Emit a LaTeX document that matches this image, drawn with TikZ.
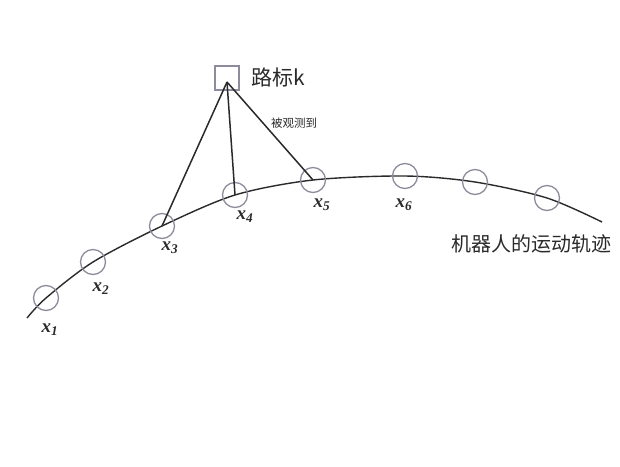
\documentclass[tikz,border=0pt]{standalone}
\usepackage{fontspec}
\setmainfont{Liberation Serif}
\newfontfamily\cjk{Noto Sans CJK SC}
\definecolor{circ}{HTML}{8C8C9C}
\definecolor{ink}{HTML}{2A2A2A}
\begin{document}
\begin{tikzpicture}[x=1pt,y=-1pt,
  pose/.style={circle,draw=circ,line width=1.3pt,minimum size=25pt,inner sep=0pt},
  xlab/.style={font=\fontsize{19}{20}\selectfont\bfseries\itshape,text=ink,inner sep=0pt},
  cn/.style={text=ink,inner sep=0pt},
  traj/.style={draw=ink,line width=1.4pt},
  obs/.style={draw=ink,line width=1.5pt}]
\useasboundingbox (0,0) rectangle (620,466);
% trajectory points
\coordinate (s) at (27,318);
\coordinate (e) at (602,222);
\coordinate (p1) at (46,298);
\coordinate (p2) at (93,262);
\coordinate (p3) at (162,226);
\coordinate (p4) at (235,195);
\coordinate (p5) at (313,180);
\coordinate (p6) at (405,176);
\coordinate (p7) at (475,182);
\coordinate (p8) at (547,198);
\draw[traj] plot[smooth,tension=0.5] coordinates {(27,318) (46,298) (93,262) (162,226) (235,195) (313,180) (405,176) (475,182) (547,198) (602,222)};
% pose circles
\foreach \i in {1,...,8} \node[pose] (x\i) at (p\i) {};
% landmark
\node[draw=circ,line width=1.3pt,minimum size=24pt,inner sep=0pt] (lm) at (227,78) {};
\coordinate (apex) at (227,82);
\draw[obs] (apex) -- (p3);
\draw[obs] (apex) -- (p4);
\draw[obs] (apex) -- (p5);
% labels
\node[cn,font=\cjk\fontsize{21}{22}\selectfont,anchor=west] (lmlab) at (251,77) {路标k};
\node[cn,font=\cjk\fontsize{11.5}{12}\selectfont] (obslab) at (294,123) {被观测到};
\node[cn,font=\cjk\fontsize{20}{21}\selectfont] (trajlab) at (531,244) {机器人的运动轨迹};
\node[xlab] (l1) at (50,330) {x\textsubscript{1}};
\node[xlab] (l2) at (101,289) {x\textsubscript{2}};
\node[xlab] (l3) at (170,248) {x\textsubscript{3}};
\node[xlab] (l4) at (245,217) {x\textsubscript{4}};
\node[xlab] (l5) at (322,205) {x\textsubscript{5}};
\node[xlab] (l6) at (404,205) {x\textsubscript{6}};
\end{tikzpicture}
\end{document}
